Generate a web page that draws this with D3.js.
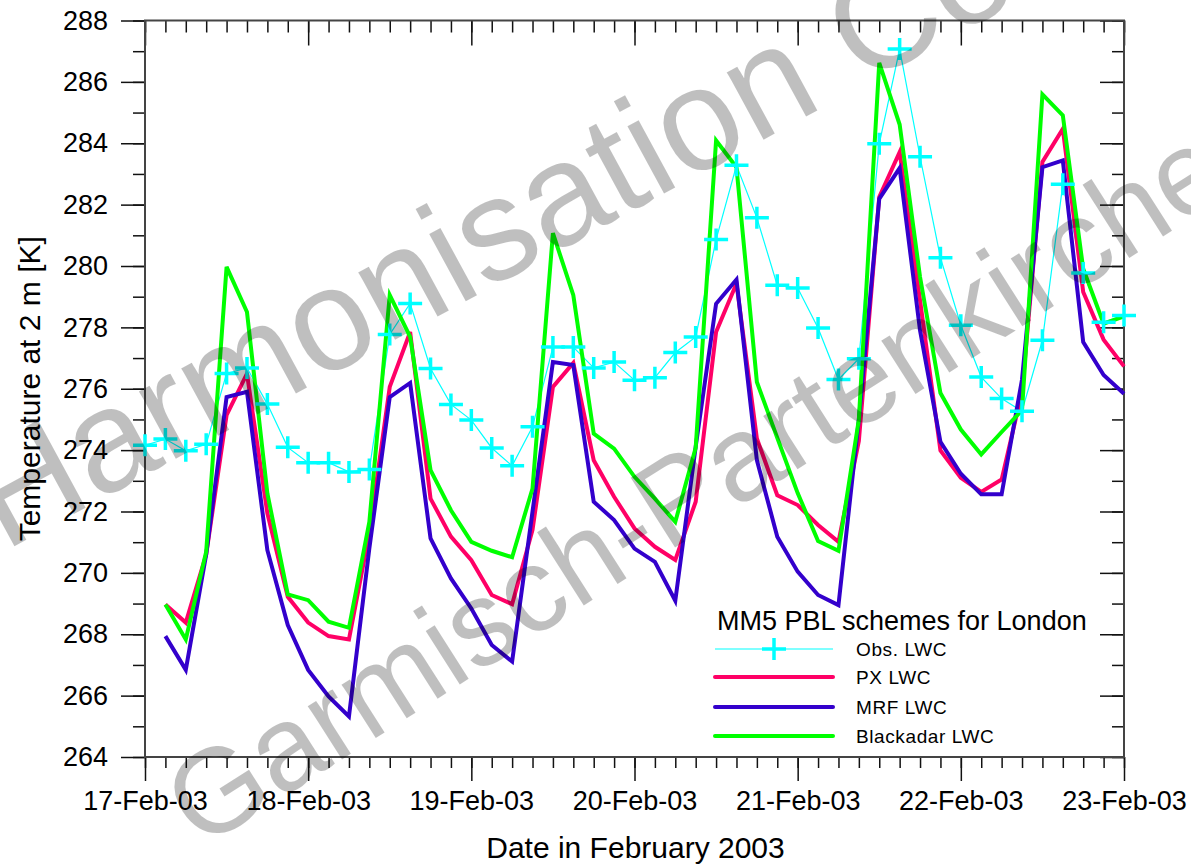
<!DOCTYPE html>
<html>
<head>
<meta charset="utf-8">
<script src="https://cdnjs.cloudflare.com/ajax/libs/d3/7.8.5/d3.min.js"></script>
<style>
  body { margin: 0; background: #fff; }
  svg { font-family: "Liberation Sans", Arial, sans-serif; }
  .axis path.domain { stroke: #444; stroke-width: 2; }
  .axis line { stroke: #111; stroke-width: 1.5; }
  .axis text { font-size: 27px; fill: #000; font-family: "Liberation Sans", Arial, sans-serif; }
</style>
</head>
<body>
<div id="chart"></div>
<script>

// 3-hourly steps from 17-Feb-03 00:00 (step 0) to 23-Feb-03 00:00 (step 48)
const obsLWC = [274.16, 274.36, 273.98, 274.19, 276.50, 276.68, 275.50, 274.09, 273.59, 273.59,
    273.29, 273.37, 277.77, 278.78, 276.66, 275.49, 274.98, 274.07, 273.49, 274.76,
    277.36, 277.36, 276.68, 276.87, 276.28, 276.36, 277.18, 277.69, 280.86, 283.28,
    281.57, 279.37, 279.28, 277.98, 276.30, 276.98, 283.98, 287.07, 283.56, 280.27,
    278.07, 276.38, 275.68, 275.27, 277.58, 282.66, 279.77, 278.17, 278.39]

// model runs start at step 1
const pxLWC = [268.97, 268.38, 270.60, 275.14, 276.49, 271.94, 269.22, 268.38, 267.94,
    267.83, 271.30, 276.06, 277.85, 272.42, 271.18, 270.41, 269.28, 268.98, 271.40,
    276.06, 276.84, 273.67, 272.48, 271.45, 270.85, 270.42, 272.32, 277.85, 279.43,
    274.38, 272.53, 272.21, 271.56, 271.01, 274.30, 282.25, 283.71, 278.88, 273.99,
    273.10, 272.64, 273.04, 275.90, 283.39, 284.47, 279.15, 277.60, 276.73]

const mrfLWC = [267.94, 266.84, 270.60, 275.73, 275.90, 270.74, 268.30, 266.84, 265.97,
    265.32, 270.80, 275.73, 276.19, 271.12, 269.82, 268.84, 267.65, 267.11, 272.00,
    276.87, 276.77, 272.32, 271.72, 270.79, 270.36, 269.09, 274.11, 278.77, 279.56,
    273.67, 271.18, 270.04, 269.28, 268.95, 275.00, 282.19, 283.19, 277.90, 274.27,
    273.23, 272.56, 272.56, 276.30, 283.22, 283.44, 277.52, 276.45, 275.84]

const blackadarLWC = [268.97, 267.83, 270.69, 279.97, 278.50, 272.59, 269.30, 269.11, 268.41,
    268.21, 271.66, 279.05, 277.69, 273.35, 272.04, 271.01, 270.72, 270.51, 272.75,
    281.07, 279.05, 274.54, 274.05, 273.13, 272.42, 271.66, 274.08, 284.09, 283.22,
    276.22, 274.40, 272.60, 271.04, 270.72, 275.00, 286.62, 284.61, 279.64, 275.86,
    274.67, 273.86, 274.59, 275.30, 285.59, 284.91, 279.91, 278.12, 278.36]

const seriesNames = ["Obs. LWC", "PX LWC", "MRF LWC", "Blackadar LWC"]
const seriesColors = ["#00ffff", "#ff0066", "#3300cc", "#00ff00"]

const yMajorTicks = [264, 266, 268, 270, 272, 274, 276, 278, 280, 282, 284, 286, 288]
const startDate = new Date(Date.UTC(2003, 1, 17))
const endDate = new Date(Date.UTC(2003, 1, 23))

const legendTitle = "MM5 PBL schemes for London"
const xTitle = "Date in February 2003"
const yTitle = "Temperature at 2 m [K]"

const W = 1191, H = 867
const margin = {top: 20.5, right: 67, bottom: 110, left: 145}
const width = W - margin.left - margin.right
const height = H - margin.top - margin.bottom

const svg = d3.select("#chart").append("svg")
    .attr("width", W)
    .attr("height", H)

const g = svg.append("g")
    .attr("transform", `translate(${margin.left},${margin.top})`)

const x = d3.scaleUtc().domain([startDate, endDate]).range([0, width])
const y = d3.scaleLinear().domain([264, 288]).range([height, 0])

const stepTime = i => d3.utcHour.offset(startDate, i * 3)

const dayTicks = d3.utcDay.range(startDate, d3.utcDay.offset(endDate, 1))
const hourTicks = d3.utcHour.every(3).range(startDate, d3.utcHour.offset(endDate, 1))
const yMinorTicks = d3.range(264, 289, 1)

// minor ticks first
g.append("g").attr("class", "axis")
    .attr("transform", `translate(0,${height})`)
    .call(d3.axisBottom(x).tickValues(hourTicks).tickSize(11).tickFormat(""))
g.append("g").attr("class", "axis")
    .call(d3.axisTop(x).tickValues(hourTicks).tickSize(-12).tickFormat(""))
g.append("g").attr("class", "axis")
    .call(d3.axisLeft(y).tickValues(yMinorTicks).tickSize(12).tickFormat(""))
g.append("g").attr("class", "axis")
    .attr("transform", `translate(${width},0)`)
    .call(d3.axisRight(y).tickValues(yMinorTicks).tickSize(-12).tickFormat(""))

// major ticks
g.append("g").attr("class", "axis")
    .attr("transform", `translate(0,${height})`)
    .call(d3.axisBottom(x).tickValues(dayTicks).tickSize(24).tickPadding(10)
        .tickFormat(d3.utcFormat("%d-%b-%y")))
g.append("g").attr("class", "axis")
    .call(d3.axisTop(x).tickValues(dayTicks).tickSize(-25).tickFormat(""))
g.append("g").attr("class", "axis")
    .call(d3.axisLeft(y).tickValues(yMajorTicks).tickSize(24).tickPadding(13))
g.append("g").attr("class", "axis")
    .attr("transform", `translate(${width},0)`)
    .call(d3.axisRight(y).tickValues(yMajorTicks).tickSize(-24).tickFormat(""))

g.selectAll(".axis path.domain").attr("d", null)
// frame
g.append("rect")
    .attr("width", width).attr("height", height)
    .attr("fill", "none").attr("stroke", "#444").attr("stroke-width", 2)

// model lines
const line = d3.line()
    .x(d => x(d.t))
    .y(d => y(d.v))

const toPoints = (arr, offset) => arr.map((v, i) => ({t: stepTime(i + offset), v: v}))

const models = [
    {vals: pxLWC, color: seriesColors[1]},
    {vals: mrfLWC, color: seriesColors[2]},
    {vals: blackadarLWC, color: seriesColors[3]}
]

g.append("path")
    .datum(toPoints(obsLWC, 0))
    .attr("fill", "none")
    .attr("stroke", seriesColors[0])
    .attr("stroke-width", 1.2)
    .attr("d", line)

models.forEach(m => {
    g.append("path")
        .datum(toPoints(m.vals, 1))
        .attr("fill", "none")
        .attr("stroke", m.color)
        .attr("stroke-width", 4)
        .attr("stroke-linejoin", "miter")
        .attr("d", line)
})

// obs crosses
const cross = "M-12,0H12M0,-11V11"
g.selectAll(".obs-cross")
    .data(toPoints(obsLWC, 0))
    .enter().append("path")
    .attr("class", "obs-cross")
    .attr("transform", d => `translate(${x(d.t)},${y(d.v)})`)
    .attr("d", cross)
    .attr("stroke", seriesColors[0])
    .attr("stroke-width", 3.5)

// axis titles
svg.append("text")
    .attr("x", margin.left + width / 2 + 1)
    .attr("y", 858)
    .attr("text-anchor", "middle")
    .style("font-size", "30px")
    .text(xTitle)

svg.append("text")
    .attr("transform", `translate(40,${margin.top + height / 2}) rotate(-90)`)
    .attr("text-anchor", "middle")
    .style("font-size", "30px")
    .text(yTitle)

// legend
const legend = svg.append("g").attr("transform", "translate(715,0)")
legend.append("text")
    .attr("x", 2).attr("y", 630)
    .style("font-size", "27px")
    .text(legendTitle)

const rowY = [649, 677, 707, 736]
seriesNames.forEach((name, i) => {
    legend.append("line")
        .attr("x1", 0).attr("x2", 118)
        .attr("y1", rowY[i]).attr("y2", rowY[i])
        .attr("stroke", seriesColors[i])
        .attr("stroke-width", i === 0 ? 1.2 : 4)
        .attr("stroke-linecap", i === 0 ? "butt" : "round")
    if (i === 0) {
        legend.append("path")
            .attr("transform", `translate(59,${rowY[i]})`)
            .attr("d", cross)
            .attr("stroke", seriesColors[0])
            .attr("stroke-width", 3.5)
    }
    legend.append("text")
        .attr("x", 141).attr("y", rowY[i] + 7)
        .style("font-size", "19px")
        .style("letter-spacing", "0.6px")
        .text(name)
})

// watermark on top
svg.append("text")
    .attr("transform", "translate(4,552) rotate(-28.5)")
    .style("font-size", "145px")
    .attr("fill", "rgba(0,0,0,0.25)")
    .text("Harmonisation Conference")

svg.append("text")
    .attr("transform", "translate(200,850) rotate(-32.5)")
    .style("font-size", "120px")
    .attr("fill", "rgba(0,0,0,0.25)")
    .text("Garmisch-Partenkirchen")

</script>
</body>
</html>
